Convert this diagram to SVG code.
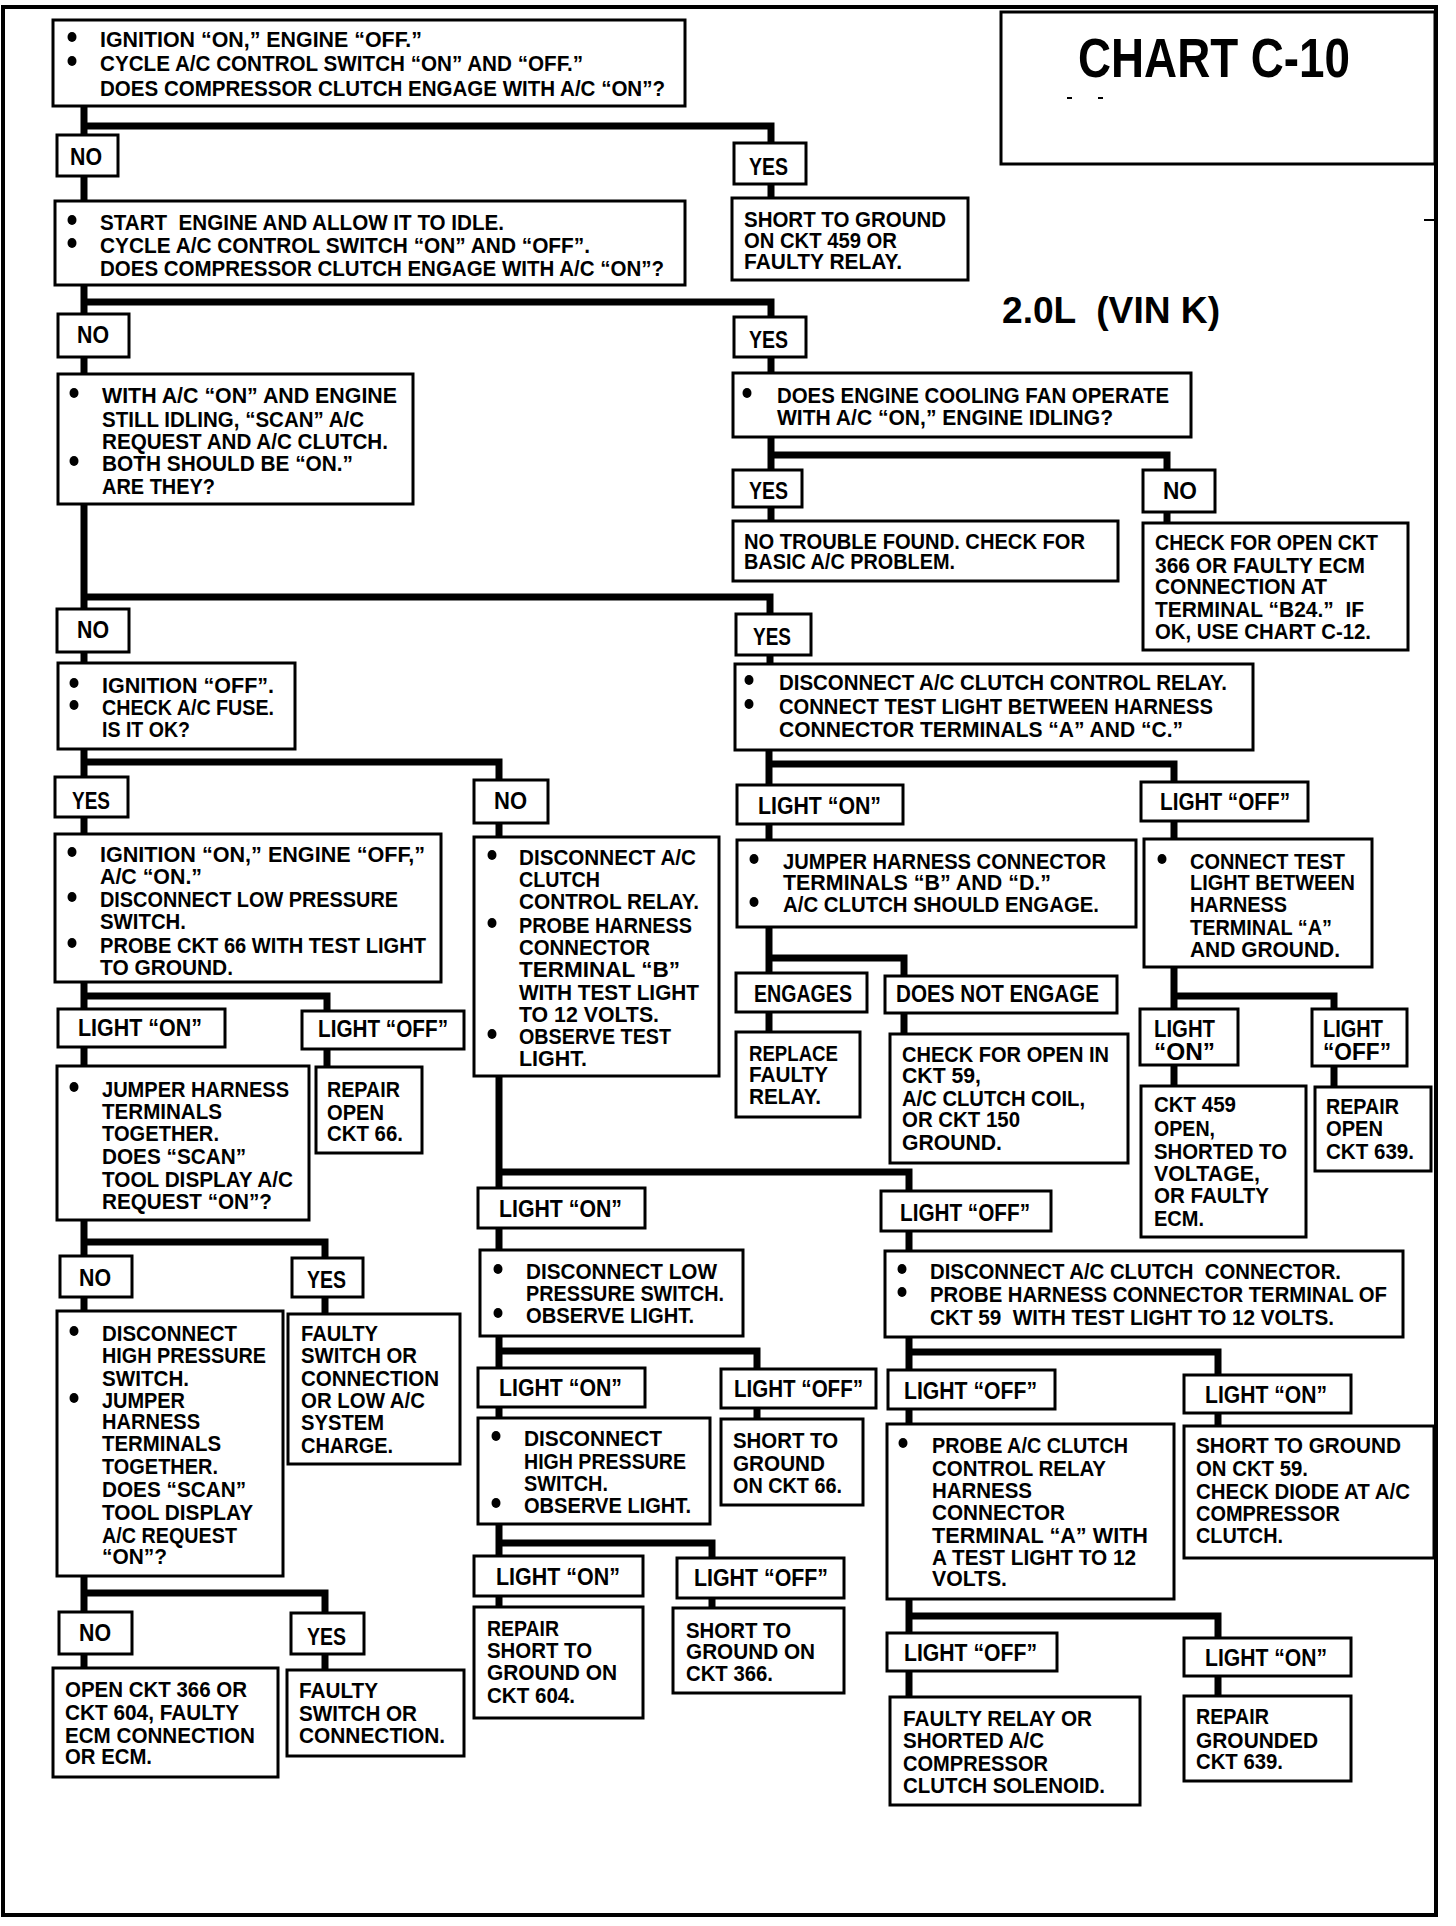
<svg xmlns="http://www.w3.org/2000/svg" width="1456" height="1926" viewBox="0 0 1456 1926">
<style>
.b{fill:#fff;stroke:#000;stroke-width:3}
.c{fill:none;stroke:#000;stroke-width:7;stroke-linejoin:miter}
.d{fill:#000}
text{font-family:"Liberation Sans",Arial,sans-serif;font-weight:bold;font-size:22px;fill:#000}
.l{font-size:23px}
</style>
<rect x="0" y="0" width="1456" height="1926" fill="#fff"/>
<rect x="3" y="7" width="1433" height="1908" fill="none" stroke="#000" stroke-width="4"/>
<g id="title">
<rect x="1001" y="12" width="434" height="152" fill="none" stroke="#000" stroke-width="3"/>
<text x="1078" y="77" style="font-size:55px" textLength="272" lengthAdjust="spacingAndGlyphs">CHART C-10</text>
<rect x="1067" y="97" width="5" height="2" fill="#000"/>
<rect x="1098" y="97" width="5" height="2" fill="#000"/>
<rect x="1424" y="219" width="12" height="2" fill="#000"/>
<text x="1002" y="323" style="font-size:37px" xml:space="preserve" textLength="218" lengthAdjust="spacingAndGlyphs">2.0L  (VIN K)</text>
</g>
<g id="connectors">
<path class="c" d="M84,106V1668"/>
<path class="c" d="M84,126H771V198"/>
<path class="c" d="M84,302H771V373"/>
<path class="c" d="M771,437V521"/>
<path class="c" d="M771,455H1167V523"/>
<path class="c" d="M84,597H770V664"/>
<path class="c" d="M769,750V840"/>
<path class="c" d="M769,764H1174V839"/>
<path class="c" d="M769,927V1032"/>
<path class="c" d="M769,958H904V1034"/>
<path class="c" d="M1174,967V1086"/>
<path class="c" d="M1174,996H1334V1087"/>
<path class="c" d="M84,762H499V837"/>
<path class="c" d="M499,1076V1607"/>
<path class="c" d="M499,1172H909V1697"/>
<path class="c" d="M909,1352H1218V1426"/>
<path class="c" d="M909,1616H1218V1696"/>
<path class="c" d="M499,1351H757V1419"/>
<path class="c" d="M499,1543H712V1608"/>
<path class="c" d="M84,996H327V1067"/>
<path class="c" d="M84,1242H325V1314"/>
<path class="c" d="M84,1593H325V1670"/>
</g>
<g id="nA"><rect class="b" x="53" y="20" width="632" height="86"/>
<ellipse class="d" cx="72" cy="37" rx="4.5" ry="5"/><ellipse class="d" cx="72" cy="61" rx="4.5" ry="5"/>
<text x="100" y="47" textLength="322" lengthAdjust="spacingAndGlyphs">IGNITION “ON,” ENGINE “OFF.”</text>
<text x="100" y="71" textLength="483" lengthAdjust="spacingAndGlyphs">CYCLE A/C CONTROL SWITCH “ON” AND “OFF.”</text>
<text x="100" y="96" textLength="565" lengthAdjust="spacingAndGlyphs">DOES COMPRESSOR CLUTCH ENGAGE WITH A/C “ON”?</text></g>
<g id="no1"><rect class="b" x="57" y="135" width="61" height="41"/><text class="l" x="70" y="165" textLength="32" lengthAdjust="spacingAndGlyphs">NO</text></g>
<g id="nB"><rect class="b" x="55" y="201" width="630" height="84"/>
<ellipse class="d" cx="72" cy="220" rx="4.5" ry="5"/><ellipse class="d" cx="72" cy="243" rx="4.5" ry="5"/>
<text x="100" y="230" xml:space="preserve" textLength="404" lengthAdjust="spacingAndGlyphs">START  ENGINE AND ALLOW IT TO IDLE.</text>
<text x="100" y="253" textLength="490" lengthAdjust="spacingAndGlyphs">CYCLE A/C CONTROL SWITCH “ON” AND “OFF”.</text>
<text x="100" y="276" textLength="564" lengthAdjust="spacingAndGlyphs">DOES COMPRESSOR CLUTCH ENGAGE WITH A/C “ON”?</text></g>
<g id="no2"><rect class="b" x="58" y="314" width="71" height="43"/><text class="l" x="77" y="343" textLength="32" lengthAdjust="spacingAndGlyphs">NO</text></g>
<g id="nC"><rect class="b" x="58" y="374" width="355" height="130"/>
<ellipse class="d" cx="74" cy="393" rx="4.5" ry="5"/><ellipse class="d" cx="74" cy="461" rx="4.5" ry="5"/>
<text x="102" y="403" textLength="295" lengthAdjust="spacingAndGlyphs">WITH A/C “ON” AND ENGINE</text>
<text x="102" y="427" textLength="262" lengthAdjust="spacingAndGlyphs">STILL IDLING, “SCAN” A/C</text>
<text x="102" y="449" textLength="286" lengthAdjust="spacingAndGlyphs">REQUEST AND A/C CLUTCH.</text>
<text x="102" y="471" textLength="251" lengthAdjust="spacingAndGlyphs">BOTH SHOULD BE “ON.”</text>
<text x="102" y="494" textLength="113" lengthAdjust="spacingAndGlyphs">ARE THEY?</text></g>
<g id="yes1"><rect class="b" x="734" y="143" width="72" height="41"/><text class="l" x="749" y="175" textLength="39" lengthAdjust="spacingAndGlyphs">YES</text></g>
<g id="nD"><rect class="b" x="732" y="198" width="236" height="82"/>
<text x="744" y="227" textLength="202" lengthAdjust="spacingAndGlyphs">SHORT TO GROUND</text>
<text x="744" y="248" textLength="153" lengthAdjust="spacingAndGlyphs">ON CKT 459 OR</text>
<text x="744" y="269" textLength="158" lengthAdjust="spacingAndGlyphs">FAULTY RELAY.</text></g>
<g id="yes2"><rect class="b" x="734" y="317" width="72" height="40"/><text class="l" x="749" y="348" textLength="39" lengthAdjust="spacingAndGlyphs">YES</text></g>
<g id="nE"><rect class="b" x="733" y="373" width="458" height="64"/>
<ellipse class="d" cx="747" cy="393" rx="4.5" ry="5"/>
<text x="777" y="403" textLength="392" lengthAdjust="spacingAndGlyphs">DOES ENGINE COOLING FAN OPERATE</text>
<text x="777" y="425" textLength="336" lengthAdjust="spacingAndGlyphs">WITH A/C “ON,” ENGINE IDLING?</text></g>
<g id="yes3"><rect class="b" x="733" y="470" width="69" height="37"/><text class="l" x="749" y="499" textLength="39" lengthAdjust="spacingAndGlyphs">YES</text></g>
<g id="no7"><rect class="b" x="1143" y="470" width="72" height="42"/><text class="l" x="1163" y="499" textLength="34" lengthAdjust="spacingAndGlyphs">NO</text></g>
<g id="nF"><rect class="b" x="733" y="521" width="385" height="60"/>
<text x="744" y="549" textLength="341" lengthAdjust="spacingAndGlyphs">NO TROUBLE FOUND. CHECK FOR</text>
<text x="744" y="569" textLength="211" lengthAdjust="spacingAndGlyphs">BASIC A/C PROBLEM.</text></g>
<g id="nG"><rect class="b" x="1143" y="523" width="265" height="127"/>
<text x="1155" y="550" textLength="223" lengthAdjust="spacingAndGlyphs">CHECK FOR OPEN CKT</text>
<text x="1155" y="573" textLength="210" lengthAdjust="spacingAndGlyphs">366 OR FAULTY ECM</text>
<text x="1155" y="594" textLength="172" lengthAdjust="spacingAndGlyphs">CONNECTION AT</text>
<text x="1155" y="617" xml:space="preserve" textLength="209" lengthAdjust="spacingAndGlyphs">TERMINAL “B24.”  IF</text>
<text x="1155" y="639" textLength="216" lengthAdjust="spacingAndGlyphs">OK, USE CHART C-12.</text></g>
<g id="yes4"><rect class="b" x="736" y="614" width="75" height="41"/><text class="l" x="753" y="645" textLength="38" lengthAdjust="spacingAndGlyphs">YES</text></g>
<g id="nH"><rect class="b" x="735" y="664" width="518" height="86"/>
<ellipse class="d" cx="749" cy="680" rx="4.5" ry="5"/><ellipse class="d" cx="749" cy="704" rx="4.5" ry="5"/>
<text x="779" y="690" textLength="448" lengthAdjust="spacingAndGlyphs">DISCONNECT A/C CLUTCH CONTROL RELAY.</text>
<text x="779" y="714" textLength="434" lengthAdjust="spacingAndGlyphs">CONNECT TEST LIGHT BETWEEN HARNESS</text>
<text x="779" y="737" textLength="404" lengthAdjust="spacingAndGlyphs">CONNECTOR TERMINALS “A” AND “C.”</text></g>
<g id="hOn"><rect class="b" x="737" y="785" width="166" height="39"/><text class="l" x="758" y="814" textLength="123" lengthAdjust="spacingAndGlyphs">LIGHT “ON”</text></g>
<g id="hOff"><rect class="b" x="1141" y="782" width="167" height="39"/><text class="l" x="1160" y="810" textLength="130" lengthAdjust="spacingAndGlyphs">LIGHT “OFF”</text></g>
<g id="nI"><rect class="b" x="737" y="840" width="399" height="87"/>
<ellipse class="d" cx="754" cy="859" rx="4.5" ry="5"/><ellipse class="d" cx="754" cy="902" rx="4.5" ry="5"/>
<text x="783" y="869" textLength="323" lengthAdjust="spacingAndGlyphs">JUMPER HARNESS CONNECTOR</text>
<text x="783" y="890" textLength="268" lengthAdjust="spacingAndGlyphs">TERMINALS “B” AND “D.”</text>
<text x="783" y="912" textLength="316" lengthAdjust="spacingAndGlyphs">A/C CLUTCH SHOULD ENGAGE.</text></g>
<g id="nJ"><rect class="b" x="1144" y="839" width="228" height="128"/>
<ellipse class="d" cx="1162" cy="859" rx="4.5" ry="5"/>
<text x="1190" y="869" textLength="155" lengthAdjust="spacingAndGlyphs">CONNECT TEST</text>
<text x="1190" y="890" textLength="165" lengthAdjust="spacingAndGlyphs">LIGHT BETWEEN</text>
<text x="1190" y="912" textLength="97" lengthAdjust="spacingAndGlyphs">HARNESS</text>
<text x="1190" y="935" textLength="142" lengthAdjust="spacingAndGlyphs">TERMINAL “A”</text>
<text x="1190" y="957" textLength="150" lengthAdjust="spacingAndGlyphs">AND GROUND.</text></g>
<g id="eng"><rect class="b" x="736" y="973" width="131" height="39"/><text class="l" x="754" y="1002" textLength="98" lengthAdjust="spacingAndGlyphs">ENGAGES</text></g>
<g id="neng"><rect class="b" x="885" y="976" width="232" height="37"/><text class="l" x="896" y="1002" textLength="203" lengthAdjust="spacingAndGlyphs">DOES NOT ENGAGE</text></g>
<g id="nRep"><rect class="b" x="736" y="1032" width="124" height="85"/>
<text x="749" y="1061" textLength="89" lengthAdjust="spacingAndGlyphs">REPLACE</text>
<text x="749" y="1082" textLength="79" lengthAdjust="spacingAndGlyphs">FAULTY</text>
<text x="749" y="1104" textLength="72" lengthAdjust="spacingAndGlyphs">RELAY.</text></g>
<g id="nK"><rect class="b" x="890" y="1034" width="238" height="129"/>
<text x="902" y="1062" textLength="207" lengthAdjust="spacingAndGlyphs">CHECK FOR OPEN IN</text>
<text x="902" y="1083" textLength="79" lengthAdjust="spacingAndGlyphs">CKT 59,</text>
<text x="902" y="1106" textLength="183" lengthAdjust="spacingAndGlyphs">A/C CLUTCH COIL,</text>
<text x="902" y="1127" textLength="118" lengthAdjust="spacingAndGlyphs">OR CKT 150</text>
<text x="902" y="1150" textLength="100" lengthAdjust="spacingAndGlyphs">GROUND.</text></g>
<g id="jOn"><rect class="b" x="1140" y="1009" width="98" height="56"/>
<text class="l" x="1154" y="1037" textLength="61" lengthAdjust="spacingAndGlyphs">LIGHT</text>
<text class="l" x="1154" y="1060" textLength="61" lengthAdjust="spacingAndGlyphs">“ON”</text></g>
<g id="jOff"><rect class="b" x="1312" y="1009" width="95" height="57"/>
<text class="l" x="1323" y="1037" textLength="60" lengthAdjust="spacingAndGlyphs">LIGHT</text>
<text class="l" x="1323" y="1060" textLength="68" lengthAdjust="spacingAndGlyphs">“OFF”</text></g>
<g id="nL"><rect class="b" x="1141" y="1086" width="165" height="151"/>
<text x="1154" y="1112" textLength="82" lengthAdjust="spacingAndGlyphs">CKT 459</text>
<text x="1154" y="1136" textLength="61" lengthAdjust="spacingAndGlyphs">OPEN,</text>
<text x="1154" y="1159" textLength="133" lengthAdjust="spacingAndGlyphs">SHORTED TO</text>
<text x="1154" y="1181" textLength="106" lengthAdjust="spacingAndGlyphs">VOLTAGE,</text>
<text x="1154" y="1203" textLength="115" lengthAdjust="spacingAndGlyphs">OR FAULTY</text>
<text x="1154" y="1226" textLength="50" lengthAdjust="spacingAndGlyphs">ECM.</text></g>
<g id="nM"><rect class="b" x="1315" y="1087" width="116" height="84"/>
<text x="1326" y="1114" textLength="73" lengthAdjust="spacingAndGlyphs">REPAIR</text>
<text x="1326" y="1136" textLength="57" lengthAdjust="spacingAndGlyphs">OPEN</text>
<text x="1326" y="1159" textLength="88" lengthAdjust="spacingAndGlyphs">CKT 639.</text></g>
<g id="nOff"><rect class="b" x="881" y="1191" width="170" height="40"/><text class="l" x="900" y="1221" textLength="130" lengthAdjust="spacingAndGlyphs">LIGHT “OFF”</text></g>
<g id="nN"><rect class="b" x="885" y="1251" width="518" height="86"/>
<ellipse class="d" cx="902" cy="1269" rx="4.5" ry="5"/><ellipse class="d" cx="902" cy="1292" rx="4.5" ry="5"/>
<text x="930" y="1279" xml:space="preserve" textLength="411" lengthAdjust="spacingAndGlyphs">DISCONNECT A/C CLUTCH  CONNECTOR.</text>
<text x="930" y="1302" textLength="457" lengthAdjust="spacingAndGlyphs">PROBE HARNESS CONNECTOR TERMINAL OF</text>
<text x="930" y="1325" xml:space="preserve" textLength="404" lengthAdjust="spacingAndGlyphs">CKT 59  WITH TEST LIGHT TO 12 VOLTS.</text></g>
<g id="oOff"><rect class="b" x="888" y="1370" width="167" height="39"/><text class="l" x="904" y="1399" textLength="133" lengthAdjust="spacingAndGlyphs">LIGHT “OFF”</text></g>
<g id="oOn"><rect class="b" x="1184" y="1375" width="167" height="38"/><text class="l" x="1205" y="1403" textLength="122" lengthAdjust="spacingAndGlyphs">LIGHT “ON”</text></g>
<g id="nQ"><rect class="b" x="887" y="1424" width="287" height="175"/>
<ellipse class="d" cx="903" cy="1443" rx="4.5" ry="5"/>
<text x="932" y="1453" textLength="196" lengthAdjust="spacingAndGlyphs">PROBE A/C CLUTCH</text>
<text x="932" y="1476" textLength="174" lengthAdjust="spacingAndGlyphs">CONTROL RELAY</text>
<text x="932" y="1498" textLength="100" lengthAdjust="spacingAndGlyphs">HARNESS</text>
<text x="932" y="1520" textLength="133" lengthAdjust="spacingAndGlyphs">CONNECTOR</text>
<text x="932" y="1543" textLength="216" lengthAdjust="spacingAndGlyphs">TERMINAL “A” WITH</text>
<text x="932" y="1565" textLength="204" lengthAdjust="spacingAndGlyphs">A TEST LIGHT TO 12</text>
<text x="932" y="1586" textLength="75" lengthAdjust="spacingAndGlyphs">VOLTS.</text></g>
<g id="nR"><rect class="b" x="1184" y="1426" width="250" height="132"/>
<text x="1196" y="1453" textLength="205" lengthAdjust="spacingAndGlyphs">SHORT TO GROUND</text>
<text x="1196" y="1476" textLength="112" lengthAdjust="spacingAndGlyphs">ON CKT 59.</text>
<text x="1196" y="1499" textLength="214" lengthAdjust="spacingAndGlyphs">CHECK DIODE AT A/C</text>
<text x="1196" y="1521" textLength="144" lengthAdjust="spacingAndGlyphs">COMPRESSOR</text>
<text x="1196" y="1543" textLength="87" lengthAdjust="spacingAndGlyphs">CLUTCH.</text></g>
<g id="sOff"><rect class="b" x="887" y="1633" width="170" height="38"/><text class="l" x="904" y="1661" textLength="133" lengthAdjust="spacingAndGlyphs">LIGHT “OFF”</text></g>
<g id="sOn"><rect class="b" x="1184" y="1638" width="167" height="38"/><text class="l" x="1205" y="1666" textLength="122" lengthAdjust="spacingAndGlyphs">LIGHT “ON”</text></g>
<g id="nT"><rect class="b" x="890" y="1697" width="250" height="108"/>
<text x="903" y="1726" textLength="189" lengthAdjust="spacingAndGlyphs">FAULTY RELAY OR</text>
<text x="903" y="1748" textLength="141" lengthAdjust="spacingAndGlyphs">SHORTED A/C</text>
<text x="903" y="1771" textLength="145" lengthAdjust="spacingAndGlyphs">COMPRESSOR</text>
<text x="903" y="1793" textLength="202" lengthAdjust="spacingAndGlyphs">CLUTCH SOLENOID.</text></g>
<g id="nU"><rect class="b" x="1184" y="1696" width="167" height="85"/>
<text x="1196" y="1724" textLength="73" lengthAdjust="spacingAndGlyphs">REPAIR</text>
<text x="1196" y="1748" textLength="122" lengthAdjust="spacingAndGlyphs">GROUNDED</text>
<text x="1196" y="1769" textLength="87" lengthAdjust="spacingAndGlyphs">CKT 639.</text></g>
<g id="no3"><rect class="b" x="57" y="609" width="72" height="43"/><text class="l" x="77" y="638" textLength="32" lengthAdjust="spacingAndGlyphs">NO</text></g>
<g id="nV"><rect class="b" x="58" y="663" width="237" height="86"/>
<ellipse class="d" cx="74" cy="683" rx="4.5" ry="5"/><ellipse class="d" cx="74" cy="705" rx="4.5" ry="5"/>
<text x="102" y="693" textLength="172" lengthAdjust="spacingAndGlyphs">IGNITION “OFF”.</text>
<text x="102" y="715" textLength="172" lengthAdjust="spacingAndGlyphs">CHECK A/C FUSE.</text>
<text x="102" y="737" textLength="88" lengthAdjust="spacingAndGlyphs">IS IT OK?</text></g>
<g id="yes5"><rect class="b" x="55" y="777" width="73" height="40"/><text class="l" x="72" y="809" textLength="38" lengthAdjust="spacingAndGlyphs">YES</text></g>
<g id="no4"><rect class="b" x="474" y="780" width="74" height="43"/><text class="l" x="494" y="809" textLength="33" lengthAdjust="spacingAndGlyphs">NO</text></g>
<g id="nW"><rect class="b" x="55" y="834" width="386" height="148"/>
<ellipse class="d" cx="72" cy="852" rx="4.5" ry="5"/><ellipse class="d" cx="72" cy="897" rx="4.5" ry="5"/><ellipse class="d" cx="72" cy="943" rx="4.5" ry="5"/>
<text x="100" y="862" textLength="325" lengthAdjust="spacingAndGlyphs">IGNITION “ON,” ENGINE “OFF,”</text>
<text x="100" y="884" textLength="102" lengthAdjust="spacingAndGlyphs">A/C “ON.”</text>
<text x="100" y="907" textLength="298" lengthAdjust="spacingAndGlyphs">DISCONNECT LOW PRESSURE</text>
<text x="100" y="929" textLength="86" lengthAdjust="spacingAndGlyphs">SWITCH.</text>
<text x="100" y="953" textLength="326" lengthAdjust="spacingAndGlyphs">PROBE CKT 66 WITH TEST LIGHT</text>
<text x="100" y="975" textLength="133" lengthAdjust="spacingAndGlyphs">TO GROUND.</text></g>
<g id="nX"><rect class="b" x="474" y="837" width="245" height="239"/>
<ellipse class="d" cx="492" cy="855" rx="4.5" ry="5"/><ellipse class="d" cx="492" cy="923" rx="4.5" ry="5"/><ellipse class="d" cx="492" cy="1034" rx="4.5" ry="5"/>
<text x="519" y="865" textLength="177" lengthAdjust="spacingAndGlyphs">DISCONNECT A/C</text>
<text x="519" y="887" textLength="81" lengthAdjust="spacingAndGlyphs">CLUTCH</text>
<text x="519" y="909" textLength="180" lengthAdjust="spacingAndGlyphs">CONTROL RELAY.</text>
<text x="519" y="933" textLength="173" lengthAdjust="spacingAndGlyphs">PROBE HARNESS</text>
<text x="519" y="955" textLength="131" lengthAdjust="spacingAndGlyphs">CONNECTOR</text>
<text x="519" y="977" textLength="161" lengthAdjust="spacingAndGlyphs">TERMINAL “B”</text>
<text x="519" y="1000" textLength="180" lengthAdjust="spacingAndGlyphs">WITH TEST LIGHT</text>
<text x="519" y="1022" textLength="140" lengthAdjust="spacingAndGlyphs">TO 12 VOLTS.</text>
<text x="519" y="1044" textLength="152" lengthAdjust="spacingAndGlyphs">OBSERVE TEST</text>
<text x="519" y="1066" textLength="68" lengthAdjust="spacingAndGlyphs">LIGHT.</text></g>
<g id="wOn"><rect class="b" x="58" y="1009" width="167" height="38"/><text class="l" x="78" y="1036" textLength="124" lengthAdjust="spacingAndGlyphs">LIGHT “ON”</text></g>
<g id="wOff"><rect class="b" x="302" y="1011" width="162" height="38"/><text class="l" x="318" y="1037" textLength="130" lengthAdjust="spacingAndGlyphs">LIGHT “OFF”</text></g>
<g id="nY"><rect class="b" x="57" y="1066" width="252" height="154"/>
<ellipse class="d" cx="74" cy="1087" rx="4.5" ry="5"/>
<text x="102" y="1097" textLength="187" lengthAdjust="spacingAndGlyphs">JUMPER HARNESS</text>
<text x="102" y="1119" textLength="120" lengthAdjust="spacingAndGlyphs">TERMINALS</text>
<text x="102" y="1141" textLength="117" lengthAdjust="spacingAndGlyphs">TOGETHER.</text>
<text x="102" y="1164" textLength="144" lengthAdjust="spacingAndGlyphs">DOES “SCAN”</text>
<text x="102" y="1187" textLength="191" lengthAdjust="spacingAndGlyphs">TOOL DISPLAY A/C</text>
<text x="102" y="1209" textLength="170" lengthAdjust="spacingAndGlyphs">REQUEST “ON”?</text></g>
<g id="nZ"><rect class="b" x="316" y="1067" width="106" height="86"/>
<text x="327" y="1097" textLength="73" lengthAdjust="spacingAndGlyphs">REPAIR</text>
<text x="327" y="1120" textLength="57" lengthAdjust="spacingAndGlyphs">OPEN</text>
<text x="327" y="1141" textLength="76" lengthAdjust="spacingAndGlyphs">CKT 66.</text></g>
<g id="no5"><rect class="b" x="60" y="1256" width="72" height="41"/><text class="l" x="79" y="1286" textLength="32" lengthAdjust="spacingAndGlyphs">NO</text></g>
<g id="yes6"><rect class="b" x="292" y="1258" width="71" height="39"/><text class="l" x="307" y="1288" textLength="39" lengthAdjust="spacingAndGlyphs">YES</text></g>
<g id="nAA"><rect class="b" x="57" y="1311" width="226" height="265"/>
<ellipse class="d" cx="74" cy="1331" rx="4.5" ry="5"/><ellipse class="d" cx="74" cy="1398" rx="4.5" ry="5"/>
<text x="102" y="1341" textLength="135" lengthAdjust="spacingAndGlyphs">DISCONNECT</text>
<text x="102" y="1363" textLength="164" lengthAdjust="spacingAndGlyphs">HIGH PRESSURE</text>
<text x="102" y="1386" textLength="87" lengthAdjust="spacingAndGlyphs">SWITCH.</text>
<text x="102" y="1408" textLength="83" lengthAdjust="spacingAndGlyphs">JUMPER</text>
<text x="102" y="1429" textLength="98" lengthAdjust="spacingAndGlyphs">HARNESS</text>
<text x="102" y="1451" textLength="119" lengthAdjust="spacingAndGlyphs">TERMINALS</text>
<text x="102" y="1474" textLength="116" lengthAdjust="spacingAndGlyphs">TOGETHER.</text>
<text x="102" y="1497" textLength="144" lengthAdjust="spacingAndGlyphs">DOES “SCAN”</text>
<text x="102" y="1520" textLength="151" lengthAdjust="spacingAndGlyphs">TOOL DISPLAY</text>
<text x="102" y="1543" textLength="135" lengthAdjust="spacingAndGlyphs">A/C REQUEST</text>
<text x="102" y="1564" textLength="65" lengthAdjust="spacingAndGlyphs">“ON”?</text></g>
<g id="nAB"><rect class="b" x="288" y="1314" width="172" height="150"/>
<text x="301" y="1341" textLength="77" lengthAdjust="spacingAndGlyphs">FAULTY</text>
<text x="301" y="1363" textLength="116" lengthAdjust="spacingAndGlyphs">SWITCH OR</text>
<text x="301" y="1386" textLength="138" lengthAdjust="spacingAndGlyphs">CONNECTION</text>
<text x="301" y="1408" textLength="124" lengthAdjust="spacingAndGlyphs">OR LOW A/C</text>
<text x="301" y="1430" textLength="83" lengthAdjust="spacingAndGlyphs">SYSTEM</text>
<text x="301" y="1453" textLength="92" lengthAdjust="spacingAndGlyphs">CHARGE.</text></g>
<g id="no6"><rect class="b" x="59" y="1612" width="73" height="42"/><text class="l" x="79" y="1641" textLength="32" lengthAdjust="spacingAndGlyphs">NO</text></g>
<g id="yes7"><rect class="b" x="291" y="1613" width="73" height="41"/><text class="l" x="307" y="1645" textLength="39" lengthAdjust="spacingAndGlyphs">YES</text></g>
<g id="nAC"><rect class="b" x="53" y="1668" width="225" height="109"/>
<text x="65" y="1697" textLength="182" lengthAdjust="spacingAndGlyphs">OPEN CKT 366 OR</text>
<text x="65" y="1720" textLength="174" lengthAdjust="spacingAndGlyphs">CKT 604, FAULTY</text>
<text x="65" y="1743" textLength="190" lengthAdjust="spacingAndGlyphs">ECM CONNECTION</text>
<text x="65" y="1764" textLength="87" lengthAdjust="spacingAndGlyphs">OR ECM.</text></g>
<g id="nAD"><rect class="b" x="287" y="1670" width="177" height="86"/>
<text x="299" y="1698" textLength="79" lengthAdjust="spacingAndGlyphs">FAULTY</text>
<text x="299" y="1721" textLength="118" lengthAdjust="spacingAndGlyphs">SWITCH OR</text>
<text x="299" y="1743" textLength="146" lengthAdjust="spacingAndGlyphs">CONNECTION.</text></g>
<g id="xOn"><rect class="b" x="478" y="1188" width="167" height="40"/><text class="l" x="499" y="1217" textLength="123" lengthAdjust="spacingAndGlyphs">LIGHT “ON”</text></g>
<g id="nP"><rect class="b" x="480" y="1250" width="263" height="86"/>
<ellipse class="d" cx="498" cy="1269" rx="4.5" ry="5"/><ellipse class="d" cx="498" cy="1313" rx="4.5" ry="5"/>
<text x="526" y="1279" textLength="191" lengthAdjust="spacingAndGlyphs">DISCONNECT LOW</text>
<text x="526" y="1301" textLength="198" lengthAdjust="spacingAndGlyphs">PRESSURE SWITCH.</text>
<text x="526" y="1323" textLength="168" lengthAdjust="spacingAndGlyphs">OBSERVE LIGHT.</text></g>
<g id="pOn"><rect class="b" x="478" y="1368" width="167" height="39"/><text class="l" x="499" y="1396" textLength="123" lengthAdjust="spacingAndGlyphs">LIGHT “ON”</text></g>
<g id="pOff"><rect class="b" x="721" y="1369" width="155" height="39"/><text class="l" x="734" y="1397" textLength="129" lengthAdjust="spacingAndGlyphs">LIGHT “OFF”</text></g>
<g id="nS66"><rect class="b" x="721" y="1419" width="142" height="86"/>
<text x="733" y="1448" textLength="105" lengthAdjust="spacingAndGlyphs">SHORT TO</text>
<text x="733" y="1471" textLength="92" lengthAdjust="spacingAndGlyphs">GROUND</text>
<text x="733" y="1493" textLength="109" lengthAdjust="spacingAndGlyphs">ON CKT 66.</text></g>
<g id="nQ2"><rect class="b" x="478" y="1418" width="232" height="106"/>
<ellipse class="d" cx="496" cy="1436" rx="4.5" ry="5"/><ellipse class="d" cx="496" cy="1503" rx="4.5" ry="5"/>
<text x="524" y="1446" textLength="138" lengthAdjust="spacingAndGlyphs">DISCONNECT</text>
<text x="524" y="1469" textLength="162" lengthAdjust="spacingAndGlyphs">HIGH PRESSURE</text>
<text x="524" y="1491" textLength="84" lengthAdjust="spacingAndGlyphs">SWITCH.</text>
<text x="524" y="1513" textLength="167" lengthAdjust="spacingAndGlyphs">OBSERVE LIGHT.</text></g>
<g id="q2On"><rect class="b" x="474" y="1556" width="169" height="40"/><text class="l" x="496" y="1585" textLength="124" lengthAdjust="spacingAndGlyphs">LIGHT “ON”</text></g>
<g id="q2Off"><rect class="b" x="677" y="1558" width="167" height="40"/><text class="l" x="694" y="1586" textLength="134" lengthAdjust="spacingAndGlyphs">LIGHT “OFF”</text></g>
<g id="nAE"><rect class="b" x="474" y="1607" width="169" height="111"/>
<text x="487" y="1636" textLength="72" lengthAdjust="spacingAndGlyphs">REPAIR</text>
<text x="487" y="1658" textLength="105" lengthAdjust="spacingAndGlyphs">SHORT TO</text>
<text x="487" y="1680" textLength="130" lengthAdjust="spacingAndGlyphs">GROUND ON</text>
<text x="487" y="1703" textLength="88" lengthAdjust="spacingAndGlyphs">CKT 604.</text></g>
<g id="nAF"><rect class="b" x="673" y="1608" width="171" height="85"/>
<text x="686" y="1638" textLength="105" lengthAdjust="spacingAndGlyphs">SHORT TO</text>
<text x="686" y="1659" textLength="129" lengthAdjust="spacingAndGlyphs">GROUND ON</text>
<text x="686" y="1681" textLength="87" lengthAdjust="spacingAndGlyphs">CKT 366.</text></g>
</svg>
